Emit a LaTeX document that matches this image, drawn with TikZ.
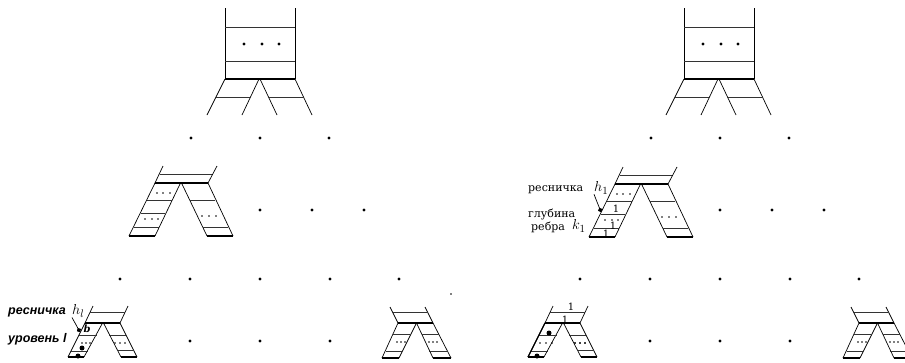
\documentclass[tikz,border=0pt]{standalone}
\usepackage{fontspec}
\setmainfont{DejaVu Serif}
\newfontfamily\labelsans{Liberation Sans}
\usetikzlibrary{arrows.meta}
\tikzset{
    edge/.style={line width=0.7pt},
    heavy/.style={line width=1.3pt},
    rung/.style={line width=0.8pt, black!80},
    spot/.style={circle, fill, inner sep=0pt, minimum size=3.2pt},
    speck/.style={circle, fill, inner sep=0pt, minimum size=1.8pt},
    ball/.style={circle, fill, inner sep=0pt, minimum size=5pt},
    serifnote/.style={font=\fontsize{11}{12}\selectfont, inner sep=0pt},
    sansnote/.style={font=\labelsans\fontsize{12.5}{13}\selectfont\bfseries\itshape, inner sep=0pt},
    digit/.style={font=\fontsize{10}{11}\selectfont, inner sep=0pt},
}
\newcommand{\bigsym}[1]{\fontsize{15}{16}\selectfont$#1$}
\begin{document}
\begin{tikzpicture}[x=1pt, y=-1pt]
    \useasboundingbox (0,0) rectangle (905,362);
    \clip (0,0) rectangle (905,362);

    %% Top trees
    \foreach \dx in {0,459} {
        \begin{scope}[shift={(\dx,0)}]
            \draw[edge] (225,8) -- (225,79);
            \draw[edge] (295,8) -- (295,79);
            \draw[rung] (225,27) -- (295,27);
            \draw[rung] (225,61) -- (295,61);
            \draw[heavy] (225,79) -- (295,79);
            \draw[edge] (225,79) -- (207,115);
            \draw[edge] (259,79) -- (242,115);
            \draw[edge] (260,79) -- (277,115);
            \draw[edge] (295,79) -- (312,115);
            \draw[rung] (216,97) -- (251,97);
            \draw[rung] (268,97) -- (303,97);
            \foreach \x in {244,262,279}
                \node[spot] at (\x,44) {};
        \end{scope}
    }

    %% Middle trees
    \foreach \dx/\dy in {0/0,460/1} {
        \begin{scope}[shift={(\dx,\dy)}]
            \draw[edge] (163,166) -- (155,183) -- (129,236);
            \draw[edge] (180,184) -- (155,236);
            \draw[edge] (182,184) -- (207,236);
            \draw[edge] (217,166) -- (208,183) -- (233,236);
            \draw[rung] (160,174) -- (212,174);
            \draw[heavy] (155,183) -- (208,183);
            \draw[heavy] (129,236) -- (155,236);
            \draw[heavy] (207,236) -- (233,236);
            \draw[rung] (147,200) -- (172,200);
            \draw[rung] (141,213) -- (165,213);
            \draw[rung] (134,227) -- (159,227);
            \draw[rung] (190,200) -- (215,200);
            \draw[rung] (203,227) -- (228,227);
            \foreach \x/\y in {157/193,163/193,170/193,145/219,152/219,158/219,202/216,209/216,216/216}
                \node[speck] at (\x,\y) {};
        \end{scope}
    }

    %% Bottom trees, upper legs to the right
    \foreach \dx in {0,460} {
        \begin{scope}[shift={(\dx,0)}]
            \draw[edge] (93,306) -- (85,323) -- (68,357);
            \draw[edge] (102,324) -- (84,357);
            \draw[edge] (104,324) -- (121,357);
            \draw[edge] (128,306) -- (120,323) -- (137,357);
            \draw[rung] (90,312) -- (125,312);
            \draw[heavy] (85,323) -- (120,323);
            \draw[heavy] (68,357) -- (84,357);
            \draw[heavy] (121,357) -- (137,357);
            \draw[rung] (79,335) -- (97,335);
            \draw[rung] (71,351) -- (88,351);
            \draw[rung] (109,335) -- (126,335);
            \draw[rung] (117,350) -- (134,350);
            \foreach \x in {115,120,125}
                \node[speck] at (\x,343) {};
        \end{scope}
    }

    %% Bottom trees, upper legs to the left
    \foreach \dx in {0,461} {
        \begin{scope}[shift={(\dx,0)}]
            \draw[edge] (390,307) -- (398,323) -- (382,358);
            \draw[edge] (416,324) -- (399,358);
            \draw[edge] (417,324) -- (433,358);
            \draw[edge] (425,307) -- (433,323) -- (451,358);
            \draw[rung] (393,312) -- (428,312);
            \draw[heavy] (398,323) -- (433,323);
            \draw[heavy] (382,358) -- (399,358);
            \draw[heavy] (433,358) -- (451,358);
            \draw[rung] (393,334) -- (411,334);
            \draw[rung] (386,351) -- (403,351);
            \draw[rung] (422,334) -- (439,334);
            \draw[rung] (429,351) -- (447,351);
            \foreach \x in {397,401,405,429,433,437}
                \node[speck] at (\x,342) {};
        \end{scope}
    }

    %% Rows of dots
    \foreach \dx in {0,460} {
        \foreach \x/\y in {191/138,260/138,329/138,
                           260/210,312/210,364/210,
                           120/279,190/279,260/279,330/279,399/279,
                           190/341,260/341,330/341}
            \node[spot] at ({\x+\dx},\y) {};
    }
    \node[speck] at (451,294) {};

    %% Left tree marks
    \foreach \x in {82,86,90}
        \node[speck] at (\x,343) {};
    \node[ball] at (82,348) {};
    \node[ball] at (78,356) {};
    \node[sansnote, anchor=west] (cilia) at (8,312) {ресничка};
    \node[anchor=west, inner sep=0pt] (ciliasym) at (72,311) {\bigsym{h_l}};
    \node[sansnote, anchor=west] (level) at (8,339) {уровень \textit{l}};
    \node[font=\fontsize{10}{11}\selectfont\bfseries\itshape, inner sep=0pt] (weight) at (87,329) {b};
    \coordinate (ciliaend) at (80,332);
    \draw[edge, -{Circle[length=4.4pt]}] (ciliasym.south west) -- (ciliaend);

    %% Right tree marks
    \node[serifnote, anchor=west] (ciliaright) at (528,190) {ресничка};
    \node[anchor=west, inner sep=0pt] (ciliarightsym) at (594,188) {\bigsym{h_1}};
    \node[serifnote, anchor=west] (depth) at (528,214) {глубина};
    \node[serifnote, anchor=west] (edgeright) at (531,227) {ребра};
    \node[anchor=west, inner sep=0pt] (edgerightsym) at (572,226) {\bigsym{k_1}};
    \coordinate (ciliarightend) at (601,212);
    \draw[edge, -{Circle[length=4.4pt]}] (ciliarightsym.south west) -- (ciliarightend);
    \foreach \x/\y in {616/209,613/226,606/234,571/307,565/320}
        \node[digit] at (\x,\y) {1};
    \draw[heavy] (528,357) -- (545,323);
    \foreach \x in {540,546,552,575,580,585}
        \node[speck] at (\x,343) {};
    \node[ball] at (549,333) {};
    \node[ball] at (537,356) {};
\end{tikzpicture}
\end{document}
